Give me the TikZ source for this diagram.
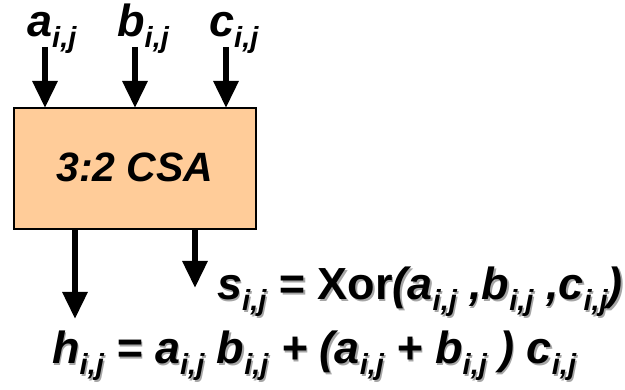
\documentclass[tikz,border=0pt]{standalone}
\usepackage{fontspec}
\setmainfont{Liberation Sans}
\usetikzlibrary{arrows.meta}

% индекс i,j
\newcommand{\idxij}{\raisebox{-11pt}{\fontsize{29}{29}\selectfont i,j}}

% тексты формул
\newcommand{\sumtext}{s\idxij{} = {\upshape Xor}(a\idxij{} ,b\idxij{} ,c\idxij)}
\newcommand{\cartext}{h\idxij{} = a\idxij{} b\idxij{} + (a\idxij{} + b\idxij{} ) c\idxij}

\definecolor{csafill}{HTML}{FFCC99}

\begin{document}
\begin{tikzpicture}[
    x=1pt,
    y=-1pt,
    wire/.style={
        line width=6pt,
        -{Triangle[width=24pt,length=27pt]}
    },
    block/.style={
        draw,
        line width=1.6pt,
        fill=csafill
    },
    lbl/.style={
        inner sep=0pt,
        font=\fontsize{45}{47}\selectfont\bfseries\itshape
    },
    shade/.style={
        lbl,
        text=black!35
    }
]

\useasboundingbox (0,0) rectangle (625,390);

% =========================================================
% Блок сумматора
% =========================================================

\draw[block] (14,108) rectangle (256,229);
\node[lbl, anchor=base, font=\fontsize{41}{43}\selectfont\bfseries\itshape]
    (csa) at (135,182) {3:2 CSA};
\coordinate (box-top) at (0,108);
\coordinate (box-bot) at (0,229);

% =========================================================
% Входы
% =========================================================

\node[lbl, anchor=base west] (la) at (27,37) {a\idxij};
\node[lbl, anchor=base west] (lb) at (117,37) {b\idxij};
\node[lbl, anchor=base west] (lc) at (209,37) {c\idxij};

\coordinate (ta) at (45,47);
\coordinate (tb) at (135,47);
\coordinate (tc) at (226,47);

\draw[wire] (ta) -- (box-top -| ta);
\draw[wire] (tb) -- (box-top -| tb);
\draw[wire] (tc) -- (box-top -| tc);

% =========================================================
% Выходы
% =========================================================

\coordinate (oh) at (75,319);
\coordinate (os) at (195,288);

\draw[wire] (box-bot -| oh) -- (oh);
\draw[wire] (box-bot -| os) -- (os);

% =========================================================
% Формулы (с тенью)
% =========================================================

\node[shade, anchor=base west] (eqs-sh) at (218.5,301.5) {\sumtext};
\node[lbl, anchor=base west] (eqs) at (217,300) {\sumtext};

\node[shade, anchor=base west] (eqh-sh) at (53.5,365.5) {\cartext};
\node[lbl, anchor=base west] (eqh) at (52,364) {\cartext};

\end{tikzpicture}
\end{document}
